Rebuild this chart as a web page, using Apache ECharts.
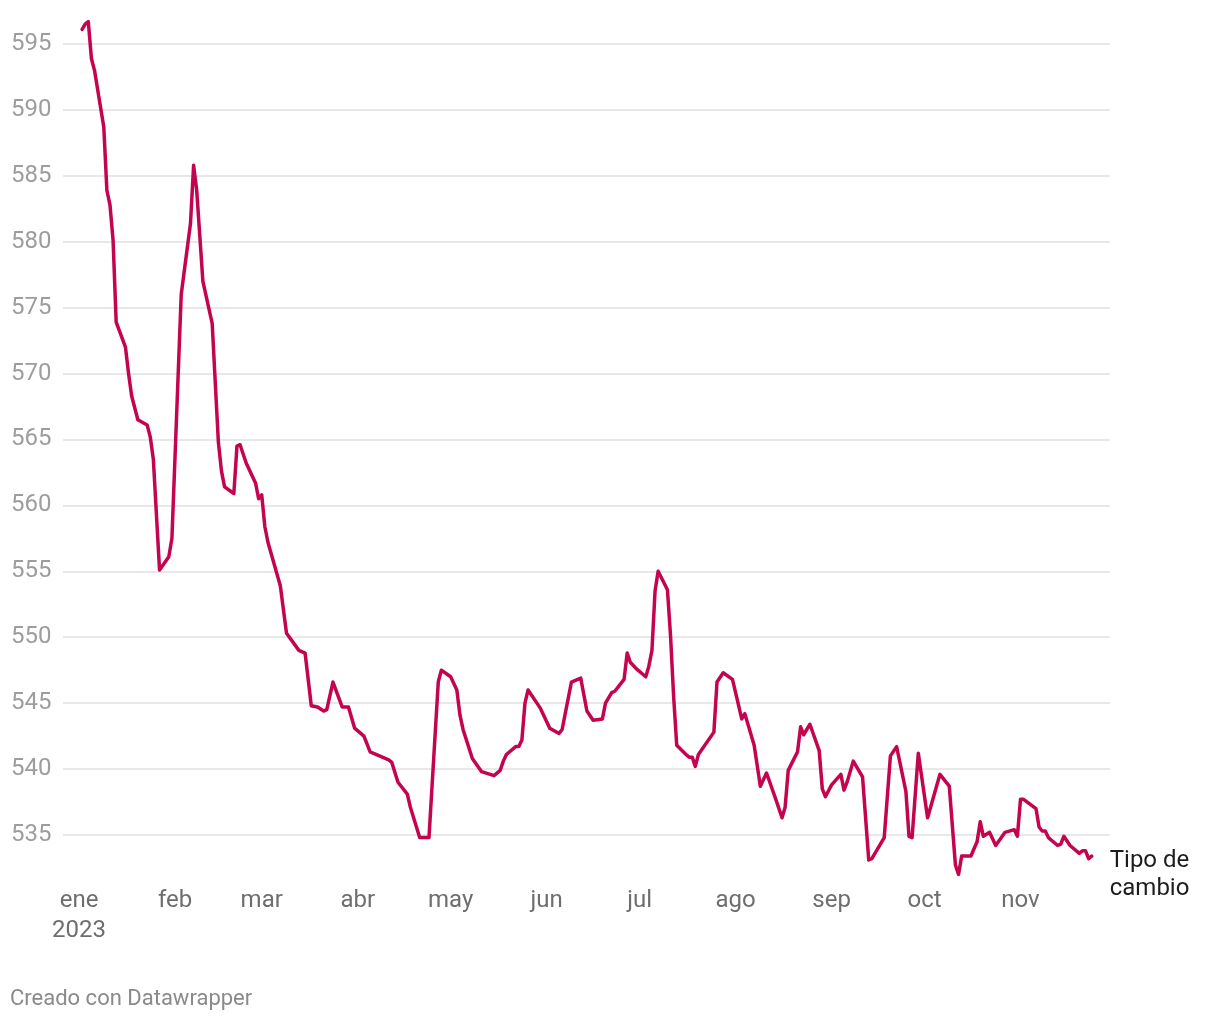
<!DOCTYPE html>
<html>
<head>
<meta charset="utf-8">
<script src="https://cdn.jsdelivr.net/npm/echarts@6/dist/echarts.min.js"></script>
<style>
html,body{margin:0;padding:0;background:#fff;}
#chart{width:1220px;height:1020px;}
</style>
</head>
<body>
<div id="chart"></div>
<script>
// ---- data ----
const dates = [
'2023-01-02','2023-01-03','2023-01-04','2023-01-05','2023-01-06','2023-01-09','2023-01-10','2023-01-11','2023-01-12','2023-01-13',
'2023-01-16','2023-01-17','2023-01-18','2023-01-20','2023-01-23','2023-01-24','2023-01-25','2023-01-27','2023-01-30','2023-01-31',
'2023-02-03','2023-02-06','2023-02-07','2023-02-08','2023-02-10','2023-02-13','2023-02-15','2023-02-16','2023-02-17','2023-02-20',
'2023-02-21','2023-02-22','2023-02-23','2023-02-24','2023-02-27','2023-02-28','2023-03-01','2023-03-02','2023-03-03','2023-03-07',
'2023-03-09','2023-03-13','2023-03-15','2023-03-17','2023-03-19','2023-03-21','2023-03-22','2023-03-24','2023-03-27','2023-03-29',
'2023-03-31','2023-04-03','2023-04-05','2023-04-11','2023-04-12','2023-04-14','2023-04-17','2023-04-18','2023-04-21','2023-04-24',
'2023-04-27','2023-04-28','2023-05-01','2023-05-03','2023-05-04','2023-05-05','2023-05-08','2023-05-11','2023-05-15','2023-05-17',
'2023-05-18','2023-05-19','2023-05-22','2023-05-23','2023-05-24','2023-05-25','2023-05-26','2023-05-30','2023-06-02','2023-06-05',
'2023-06-06','2023-06-07','2023-06-09','2023-06-12','2023-06-14','2023-06-16','2023-06-19','2023-06-20','2023-06-22','2023-06-23',
'2023-06-26','2023-06-27','2023-06-28','2023-06-30','2023-07-03','2023-07-04','2023-07-05','2023-07-06','2023-07-07','2023-07-10',
'2023-07-11','2023-07-12','2023-07-13','2023-07-16','2023-07-17','2023-07-18','2023-07-19','2023-07-20','2023-07-25','2023-07-26',
'2023-07-28','2023-07-31','2023-08-03','2023-08-04','2023-08-07','2023-08-09','2023-08-11','2023-08-14','2023-08-16','2023-08-17',
'2023-08-18','2023-08-21','2023-08-22','2023-08-23','2023-08-25','2023-08-28','2023-08-29','2023-08-30','2023-09-01','2023-09-04',
'2023-09-05','2023-09-06','2023-09-08','2023-09-11','2023-09-13','2023-09-14','2023-09-18','2023-09-20','2023-09-22','2023-09-25',
'2023-09-26','2023-09-27','2023-09-29','2023-10-02','2023-10-06','2023-10-09','2023-10-11','2023-10-12','2023-10-13','2023-10-16',
'2023-10-18','2023-10-19','2023-10-20','2023-10-22','2023-10-24','2023-10-27','2023-10-30','2023-10-31','2023-11-01','2023-11-02',
'2023-11-06','2023-11-07','2023-11-08','2023-11-09','2023-11-10','2023-11-13','2023-11-14','2023-11-15','2023-11-17','2023-11-20',
'2023-11-21','2023-11-22','2023-11-23','2023-11-24'
];
const values = [
596.1,596.5,596.7,593.9,593.0,588.7,583.9,582.8,580.1,573.9,
572.0,570.0,568.3,566.5,566.1,565.2,563.5,555.1,556.1,557.5,
576.0,581.4,585.8,583.9,577.0,573.8,564.8,562.6,561.4,560.9,
564.5,564.6,563.9,563.2,561.7,560.5,560.8,558.4,557.2,553.9,
550.3,549.0,548.8,544.8,544.7,544.4,544.5,546.6,544.7,544.7,
543.1,542.5,541.3,540.7,540.5,539.0,538.1,537.1,534.8,534.8,
546.6,547.5,547.0,546.0,544.1,543.0,540.8,539.8,539.5,539.9,
540.6,541.1,541.7,541.7,542.2,545.0,546.0,544.6,543.1,542.7,
543.0,544.2,546.6,546.9,544.4,543.7,543.8,545.0,545.8,545.9,
546.8,548.8,548.1,547.6,547.0,547.8,549.0,553.5,555.0,553.6,
550.1,545.5,541.8,541.1,540.9,540.9,540.2,541.1,542.8,546.6,
547.3,546.8,543.8,544.2,541.8,538.7,539.7,537.7,536.3,537.1,
539.9,541.3,543.2,542.6,543.4,541.4,538.5,537.9,538.8,539.6,
538.4,539.0,540.6,539.4,533.1,533.2,534.8,541.0,541.7,538.3,
534.9,534.8,541.2,536.3,539.6,538.7,532.7,532.0,533.4,533.4,
534.5,536.0,534.9,535.2,534.2,535.2,535.4,534.9,537.7,537.7,
537.0,535.6,535.3,535.3,534.8,534.2,534.3,534.9,534.2,533.6,
533.8,533.8,533.2,533.4
];
const monthTicks = ['2023-01-01','2023-02-01','2023-03-01','2023-04-01','2023-05-01','2023-06-01',
                    '2023-07-01','2023-08-01','2023-09-01','2023-10-01','2023-11-01'];
const monthNames = ['ene','feb','mar','abr','may','jun','jul','ago','sep','oct','nov'];
const yearLabel = '2023';
const seriesName = 'Tipo de\ncambio';
const footer = 'Creado con Datawrapper';

// ---- helpers ----
function toTime(s){ const p = s.split('-').map(Number); return Date.UTC(p[0], p[1]-1, p[2]); }
const DAY = 86400000;
const jan1 = toTime('2023-01-01');
const tickTimes = monthTicks.map(toTime);

const chart = echarts.init(document.getElementById('chart'), null, {renderer:'canvas'});
const FONT = 'Roboto, "Noto Sans", sans-serif';

chart.setOption({
  animation: false,
  backgroundColor: '#ffffff',
  grid: { left: 63, right: 110, top: 17.6, bottom: 145.5, containLabel: false },
  xAxis: {
    type: 'value',
    min: jan1 - 5.17 * DAY,
    max: jan1 + 332.9 * DAY,
    axisLine: { show: false },
    axisTick: { show: false },
    splitLine: { show: false },
    axisLabel: {
      customValues: tickTimes,
      showMinLabel: true,
      showMaxLabel: true,
      hideOverlap: false,
      margin: 11,
      fontSize: 24,
      lineHeight: 30,
      color: '#6e6e6e',
      fontFamily: FONT,
      formatter: function (v) {
        const m = new Date(v).getUTCMonth();
        return monthNames[m] + (m === 0 ? '\n' + yearLabel : '');
      }
    }
  },
  yAxis: {
    type: 'value',
    min: 532,
    max: 597,
    splitNumber: 13,
    axisLine: { show: false },
    axisTick: { show: false },
    axisLabel: {
      showMinLabel: false,
      showMaxLabel: false,
      align: 'left',
      margin: 52,
      fontSize: 24,
      color: '#9d9d9d',
      fontFamily: FONT
    },
    splitLine: {
      show: true,
      showMinLine: false,
      showMaxLine: false,
      lineStyle: { color: '#e1e1e1', width: 1.5 }
    }
  },
  series: [{
    type: 'line',
    name: seriesName,
    data: dates.map((d, i) => [toTime(d), values[i]]),
    showSymbol: false,
    symbol: 'none',
    smooth: false,
    lineStyle: { color: '#c4044f', width: 3.5, join: 'round', cap: 'round' },
    endLabel: {
      show: true,
      formatter: seriesName,
      distance: 5,
      offset: [13, 19],
      align: 'left',
      fontSize: 24,
      lineHeight: 28,
      color: '#1d1d1d',
      fontFamily: FONT
    }
  }],
  graphic: [{
    type: 'text',
    left: 10,
    top: 988,
    style: { text: footer, fontSize: 22, fill: '#8a8a8a', fontFamily: FONT }
  }]
});
</script>
</body>
</html>
